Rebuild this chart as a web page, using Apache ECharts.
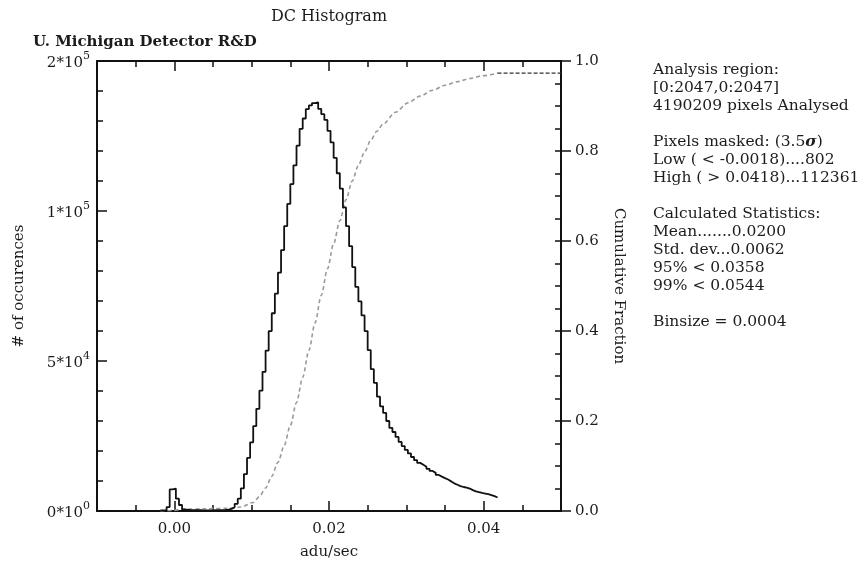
<!DOCTYPE html>
<html><head><meta charset="utf-8">
<script src="https://cdn.jsdelivr.net/npm/echarts@6/dist/echarts.min.js"></script>
<style>html,body{margin:0;padding:0;background:#fff}#c{width:863px;height:565px}</style>
</head><body><div id="c"></div>
<script>
// ---- data ----
const binStart = -0.0018;
const binSize = 0.0004;
const histCounts = [
  200, 300, 1300, 7200, 7500, 4100, 2000, 500, 400, 300, 300, 250, 250, 200, 200, 200, 200, 250, 250, 300, 350, 450, 700, 1300,
  2400, 4100, 7550, 12300, 17700, 22900, 28300, 34050, 40100, 46400, 53460, 59960,
  65910, 72440, 79470, 86960, 94970, 102350, 108980, 115220, 121760, 127380, 130840, 133980,
  135190, 135970, 136230, 134040, 132280, 130350, 126720, 122870, 117680, 112580, 107480, 101200,
  94930, 88260, 81300, 74700, 69860, 65190, 59960, 53630, 47290, 42740, 38100, 34900,
  32680, 30000, 27680, 26340, 24680, 23040, 21630, 20360, 19190, 18000, 16930, 16040,
  15390, 14740, 14050, 13370, 12710, 12020, 11470, 10950, 10490, 9870, 9220, 8760,
  8300, 8000, 7780, 7490, 6960, 6570, 6280, 6020, 5820, 5620, 5300, 4940, 4510
];
const cumX = [-0.0018, -0.0002, 0.0010, 0.0040, 0.0070, 0.0086, 0.0102, 0.0110, 0.0118, 0.0126, 0.0134, 0.0142,
  0.0150, 0.0158, 0.0166, 0.0174, 0.0182, 0.0190, 0.0198, 0.0206, 0.0214, 0.0222, 0.0230, 0.0238, 0.0246,
  0.0254, 0.0262, 0.0270, 0.0286, 0.0302, 0.0318, 0.0334, 0.0350, 0.0366, 0.0382, 0.0398, 0.0418];
const cumFrac = [0.000, 0.001, 0.004, 0.005, 0.006, 0.009, 0.019, 0.032, 0.051, 0.077, 0.108, 0.145,
  0.190, 0.241, 0.297, 0.357, 0.418, 0.479, 0.538, 0.594, 0.645, 0.692, 0.733, 0.768, 0.798,
  0.824, 0.844, 0.860, 0.886, 0.907, 0.922, 0.935, 0.946, 0.954, 0.961, 0.967, 0.973];
const plateauX = [0.0418, 0.0500];
const plateauFrac = [0.973, 0.973];

const xTickLabels = [0.00, 0.02, 0.04];
const leftTickValues = [0, 50000, 100000, 150000];
const leftTickMantissa = ['0', '5', '1', '2'];
const leftTickExponent = ['0', '4', '5', '5'];
const statsLines = [
  'Analysis region:',
  '[0:2047,0:2047]',
  '4190209 pixels Analysed',
  '',
  'Pixels masked: (3.5{s|σ})',
  'Low ( < -0.0018)....802',
  'High ( > 0.0418)...112361',
  '',
  'Calculated Statistics:',
  'Mean.......0.0200',
  'Std. dev...0.0062',
  '95% < 0.0358',
  '99% < 0.0544',
  '',
  'Binsize = 0.0004'
];

// ---- chart ----
const FONT = 'DejaVu Serif';
const TXT = '#1c1c1c';
const AX = '#111';

const histData = histCounts.map((c, i) => [+(binStart + i * binSize).toFixed(4), c]);
histData.push([+(binStart + histCounts.length * binSize).toFixed(4), histCounts[histCounts.length - 1]]);
const cumData = cumX.map((x, i) => [x, cumFrac[i]]);
const plateauData = plateauX.map((x, i) => [x, plateauFrac[i]]);

const chart = echarts.init(document.getElementById('c'), null, {renderer: 'canvas'});
const labelFont = {fontFamily: FONT, fontSize: 15, color: TXT};

function leftLabel(v) {
  const i = leftTickValues.findIndex(t => Math.abs(t - v) < 1);
  if (i < 0) return '';
  return '{m|' + leftTickMantissa[i] + '*10}{e|' + leftTickExponent[i] + '}';
}

chart.setOption({
  animation: false,
  backgroundColor: '#fff',
  grid: {left: 97, right: 302, top: 61, bottom: 45, containLabel: false},
  xAxis: [
    {type: 'value', position: 'bottom', min: -0.01, max: 0.05, interval: 0.005,
     axisLine: {show: true, onZero: false, lineStyle: {color: AX, width: 2}},
     axisTick: {show: true, inside: true, length: 6, lineStyle: {color: AX, width: 1.5}},
     axisLabel: Object.assign({show: true, customValues: xTickLabels, margin: 11,
       formatter: v => (Math.abs(v) < 1e-9 ? 0 : v).toFixed(2)}, labelFont),
     splitLine: {show: false},
     name: 'adu/sec', nameLocation: 'middle', nameGap: 34,
     nameTextStyle: {fontFamily: FONT, fontSize: 15, color: TXT}},
    {type: 'value', position: 'bottom', min: -0.01, max: 0.05,
     axisLine: {show: false, onZero: false},
     axisTick: {show: true, inside: true, length: 10, customValues: xTickLabels, lineStyle: {color: AX, width: 1.5}},
     axisLabel: {show: false}, splitLine: {show: false}},
    {type: 'value', position: 'top', min: -0.01, max: 0.05, interval: 0.005,
     axisLine: {show: true, onZero: false, lineStyle: {color: AX, width: 2}},
     axisTick: {show: true, inside: true, length: 6, lineStyle: {color: AX, width: 1.5}},
     axisLabel: {show: false}, splitLine: {show: false}},
    {type: 'value', position: 'top', min: -0.01, max: 0.05,
     axisLine: {show: false, onZero: false},
     axisTick: {show: true, inside: true, length: 10, customValues: xTickLabels, lineStyle: {color: AX, width: 1.5}},
     axisLabel: {show: false}, splitLine: {show: false}}
  ],
  yAxis: [
    {type: 'value', position: 'left', min: 0, max: 150000, interval: 10000,
     axisLine: {show: true, onZero: false, lineStyle: {color: AX, width: 2}},
     axisTick: {show: true, inside: true, length: 6, lineStyle: {color: AX, width: 1.5}},
     axisLabel: {show: true, customValues: leftTickValues, margin: 7, formatter: leftLabel,
       rich: {
         m: {fontFamily: FONT, fontSize: 15, color: TXT, lineHeight: 20, verticalAlign: 'bottom'},
         e: {fontFamily: FONT, fontSize: 11, color: TXT, lineHeight: 11, verticalAlign: 'top'}
       }},
     splitLine: {show: false},
     name: '# of occurences', nameLocation: 'middle', nameGap: 70, nameRotate: 90,
     nameTextStyle: {fontFamily: FONT, fontSize: 15, color: TXT}},
    {type: 'value', position: 'left', min: 0, max: 150000,
     axisLine: {show: false, onZero: false},
     axisTick: {show: true, inside: true, length: 10, customValues: leftTickValues, lineStyle: {color: AX, width: 1.5}},
     axisLabel: {show: false}, splitLine: {show: false}},
    {type: 'value', position: 'right', min: 0, max: 1, interval: 0.2,
     axisLine: {show: true, onZero: false, lineStyle: {color: AX, width: 2}},
     axisTick: {show: true, inside: false, length: 10, lineStyle: {color: AX, width: 1.5}},
     axisLabel: Object.assign({show: true, margin: 14, formatter: v => v.toFixed(1)}, labelFont),
     splitLine: {show: false},
     name: 'Cumulative Fraction', nameLocation: 'middle', nameGap: 50, nameRotate: -90,
     nameTextStyle: {fontFamily: FONT, fontSize: 15, color: TXT}},
    {type: 'value', position: 'right', min: 0, max: 1, interval: 0.05,
     axisLine: {show: false, onZero: false},
     axisTick: {show: true, inside: true, length: 6, lineStyle: {color: AX, width: 1.5}},
     axisLabel: {show: false}, splitLine: {show: false}}
  ],
  series: [
    {type: 'line', name: 'histogram', xAxisIndex: 0, yAxisIndex: 0, data: histData, step: 'end',
     symbol: 'none', lineStyle: {color: '#111', width: 1.8}, z: 4},
    {type: 'line', name: 'cumulative', xAxisIndex: 0, yAxisIndex: 2, data: cumData, smooth: 0.3, smoothMonotone: 'x',
     symbol: 'none', lineStyle: {color: '#9a9a9a', width: 1.6, type: [4, 3]}, z: 3},
    {type: 'line', name: 'plateau', xAxisIndex: 0, yAxisIndex: 2, data: plateauData,
     symbol: 'none', lineStyle: {color: '#333', width: 1.2, type: [4, 2]}, z: 3}
  ],
  graphic: [
    {type: 'text', x: 329, y: 17, style: {text: 'DC Histogram', fontFamily: FONT, fontSize: 16,
      fill: TXT, textAlign: 'center', textVerticalAlign: 'middle'}},
    {type: 'text', x: 33, y: 42, style: {text: 'U. Michigan Detector R&D', fontFamily: FONT, fontSize: 15,
      fontWeight: 'bold', fill: TXT, textAlign: 'left', textVerticalAlign: 'middle'}},
    {type: 'text', x: 653, y: 61, style: {text: statsLines.join('\n'), fontFamily: FONT, fontSize: 15.5,
      lineHeight: 18, fill: TXT, textAlign: 'left', textVerticalAlign: 'top',
      rich: {s: {fontFamily: FONT, fontSize: 15.5, fontStyle: 'italic', fontWeight: 'bold', fill: TXT, lineHeight: 18}}}}
  ]
});
</script>
</body></html>
